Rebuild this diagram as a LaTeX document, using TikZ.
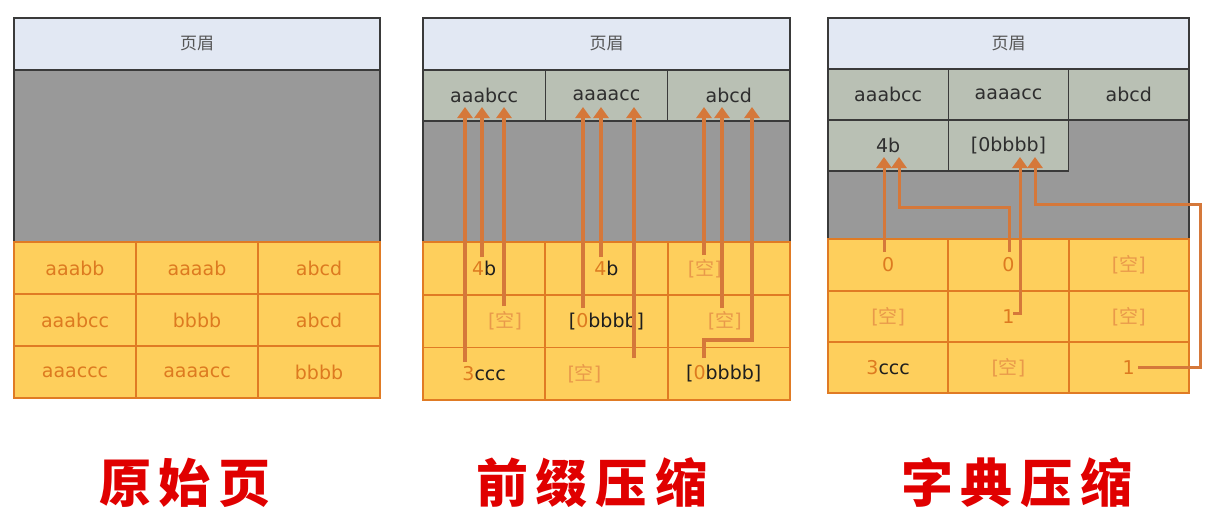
\documentclass[tikz,border=0pt]{standalone}
\usepackage{fontspec}
\setmainfont{DejaVu Sans}
\newfontfamily\cjk{Noto Sans CJK SC}
\usetikzlibrary{positioning, arrows.meta, calc}
\definecolor{hdrfill}{HTML}{E2E8F3}
\definecolor{hdrtext}{HTML}{555555}
\definecolor{edge}{HTML}{3A3A3A}
\definecolor{gapfill}{HTML}{999999}
\definecolor{dictfill}{HTML}{B9C0B4}
\definecolor{dicttext}{HTML}{2E2E2E}
\definecolor{recfill}{HTML}{FECF5C}
\definecolor{recedge}{HTML}{E07B24}
\definecolor{numc}{HTML}{DD7A20}
\definecolor{kongc}{HTML}{E9994A}
\definecolor{ptrc}{HTML}{D5783A}
\definecolor{inkc}{HTML}{1E1E1E}
\definecolor{titlered}{HTML}{E00000}
\newcommand\numc[1]{\textcolor{numc}{#1}}
\newcommand\ink[1]{\textcolor{inkc}{#1}}
\newcommand\kong{\textcolor{kongc}{[{\cjk 空}]}}
\tikzset{
  panel/.style={draw=edge, line width=1.5pt, outer sep=0pt, inner sep=0pt},
  hdr/.style={panel, fill=hdrfill, minimum height=52pt, text=hdrtext, font=\cjk\fontsize{17}{17}\selectfont},
  gap/.style={panel, fill=gapfill},
  dict/.style={panel, fill=dictfill, minimum height=51pt, text=dicttext, font=\fontsize{19}{19}\selectfont},
  rec/.style={draw=recedge, line width=1.8pt, fill=recfill, outer sep=0pt, inner sep=0pt, minimum height=52pt, text=numc, font=\fontsize{19}{19}\selectfont},
  lbl/.style={inner sep=0pt, text=numc, font=\fontsize{19}{19}\selectfont},
  wa/.style={minimum width=122pt},
  wb/.style={minimum width=122.3pt},
  wc/.style={minimum width=120.3pt},
  ptr/.style={draw=ptrc, line width=3.2pt, -{Triangle[width=15pt,length=11pt]}},
  title/.style={text=titlered, font=\cjk\bfseries\fontsize{52}{52}\selectfont},
}

\begin{document}
\begin{tikzpicture}[x=1pt, y=-1pt]
    \useasboundingbox (0,0) rectangle (1212,527);

    % original page
    \node[hdr, minimum width=366pt, anchor=north west] (h1) at (14,18) {页眉};
    \node[gap, minimum width=366pt, minimum height=172pt, below=0pt of h1] (g1) {};
    \node[rec, wa, anchor=north west] (a11) at (g1.south west) {aaabb};
    \node[rec, wa, right=0pt of a11] (a12) {aaaab};
    \node[rec, wa, right=0pt of a12] (a13) {abcd};
    \node[rec, wa, below=0pt of a11] (a21) {aaabcc};
    \node[rec, wa, right=0pt of a21] (a22) {bbbb};
    \node[rec, wa, right=0pt of a22] (a23) {abcd};
    \node[rec, wa, below=0pt of a21] (a31) {aaaccc};
    \node[rec, wa, right=0pt of a31] (a32) {aaaacc};
    \node[rec, wa, right=0pt of a32] (a33) {bbbb};

    % prefix compression
    \node[hdr, minimum width=367pt, anchor=north west] (h2) at (423,18) {页眉};
    \node[dict, wb, anchor=north west] (b1) at (h2.south west) {aaabcc};
    \node[dict, wb, right=0pt of b1] (b2) {aaaacc};
    \node[dict, wb, right=0pt of b2] (b3) {abcd};
    \node[gap, minimum width=367pt, minimum height=121pt, anchor=north west] (g2) at (b1.south west) {};
    \node[rec, wb, minimum height=52.7pt, anchor=north west] (p11) at (g2.south west) {\numc{4}\ink{b}};
    \node[rec, wb, minimum height=52.7pt, right=0pt of p11] (p12) {\numc{4}\ink{b}};
    \node[rec, wb, minimum height=52.7pt, right=0pt of p12] (p13) {};
    \node[rec, wb, minimum height=52.7pt, below=0pt of p11] (p21) {};
    \node[rec, wb, minimum height=52.7pt, right=0pt of p21] (p22) {\ink{[}\numc{0}\ink{bbbb]}};
    \node[rec, wb, minimum height=52.7pt, right=0pt of p22] (p23) {};
    \node[rec, wb, minimum height=52.7pt, below=0pt of p21] (p31) {\numc{3}\ink{ccc}};
    \node[rec, wb, minimum height=52.7pt, right=0pt of p31] (p32) {};
    \node[rec, wb, minimum height=52.7pt, right=0pt of p32] (p33) {};
    \node[lbl] (k13) at ([xshift=-24pt]p13.center) {\kong};
    \node[lbl] (k21) at ([xshift=21pt]p21.center) {\kong};
    \node[lbl] (k23) at ([xshift=-4pt]p23.center) {\kong};
    \node[lbl] (k32) at ([xshift=-22pt]p32.center) {\kong};
    \node[lbl] (k33) at ([xshift=-5pt]p33.center) {\ink{[}\numc{0}\ink{bbbb]}};

    \coordinate (v1) at (465,362);
    \coordinate (v2) at (482,257);
    \coordinate (v3) at (504,306);
    \coordinate (v4) at (583,308);
    \coordinate (v5) at (601,257);
    \coordinate (v6) at (634,358);
    \coordinate (v7) at (704,255);
    \coordinate (v8) at (722,308);
    \coordinate (v9) at (704,358);
    \coordinate (v9b) at (752,340);
    \draw[ptr] (v1) -- ($(v1 |- b1.south)+(0,-14)$);
    \draw[ptr] (v2) -- ($(v2 |- b1.south)+(0,-14)$);
    \draw[ptr] (v3) -- ($(v3 |- b1.south)+(0,-14)$);
    \draw[ptr] (v4) -- ($(v4 |- b2.south)+(0,-14)$);
    \draw[ptr] (v5) -- ($(v5 |- b2.south)+(0,-14)$);
    \draw[ptr] (v6) -- ($(v6 |- b2.south)+(0,-14)$);
    \draw[ptr] (v7) -- ($(v7 |- b3.south)+(0,-14)$);
    \draw[ptr] (v8) -- ($(v8 |- b3.south)+(0,-14)$);
    \draw[ptr] (v9) |- (v9b) -- ($(v9b |- b3.south)+(0,-14)$);

    % dictionary compression
    \node[hdr, minimum width=361pt, minimum height=51pt, anchor=north west] (h3) at (828,18) {页眉};
    \node[dict, wc, anchor=north west] (c1) at (h3.south west) {aaabcc};
    \node[dict, wc, right=0pt of c1] (c2) {aaaacc};
    \node[dict, wc, right=0pt of c2] (c3) {abcd};
    \node[gap, minimum width=361pt, minimum height=119pt, anchor=north west] (g3) at (c1.south west) {};
    \node[dict, wc, below=0pt of c1] (c4) {4b};
    \node[dict, wc, right=0pt of c4] (c5) {[0bbbb]};
    \node[rec, wc, anchor=north west] (q11) at (g3.south west) {0};
    \node[rec, wc, right=0pt of q11] (q12) {0};
    \node[rec, wc, right=0pt of q12] (q13) {\kong};
    \node[rec, wc, minimum height=51pt, below=0pt of q11] (q21) {\kong};
    \node[rec, wc, minimum height=51pt, right=0pt of q21] (q22) {1};
    \node[rec, wc, minimum height=51pt, right=0pt of q22] (q23) {\kong};
    \node[rec, wc, minimum height=51pt, below=0pt of q21] (q31) {\numc{3}\ink{ccc}};
    \node[rec, wc, minimum height=51pt, right=0pt of q31] (q32) {\kong};
    \node[rec, wc, minimum height=51pt, right=0pt of q32] (q33) {1};

    \coordinate (u1) at (884,252);
    \coordinate (u2) at (1009,252);
    \coordinate (u2b) at (899,207);
    \coordinate (u3) at (1013,313);
    \coordinate (u3b) at (1020,313);
    \coordinate (u4) at (1138,367);
    \coordinate (u4r) at (1200,204);
    \coordinate (u4b) at (1035,204);
    \draw[ptr, line width=3pt] (u1) -- ($(u1 |- c4.south)+(0,-14)$);
    \draw[ptr, line width=3pt] (u2) |- (u2b) -- ($(u2b |- c4.south)+(0,-14)$);
    \draw[ptr, line width=3pt] (u3) -- (u3b) -- ($(u3b |- c5.south)+(0,-14)$);
    \draw[ptr, line width=3pt] (u4) -| (u4r) -- (u4b) -- ($(u4b |- c5.south)+(0,-14)$);

    % captions
    \node[title] (t1) at (185,483) {原\hspace{8pt}始\hspace{8pt}页};
    \node[title] (t2) at (592,483) {前\hspace{8pt}缀\hspace{8pt}压\hspace{8pt}缩};
    \node[title] (t3) at (1017,483) {字\hspace{8pt}典\hspace{8pt}压\hspace{8pt}缩};
  \end{tikzpicture}
\end{document}
